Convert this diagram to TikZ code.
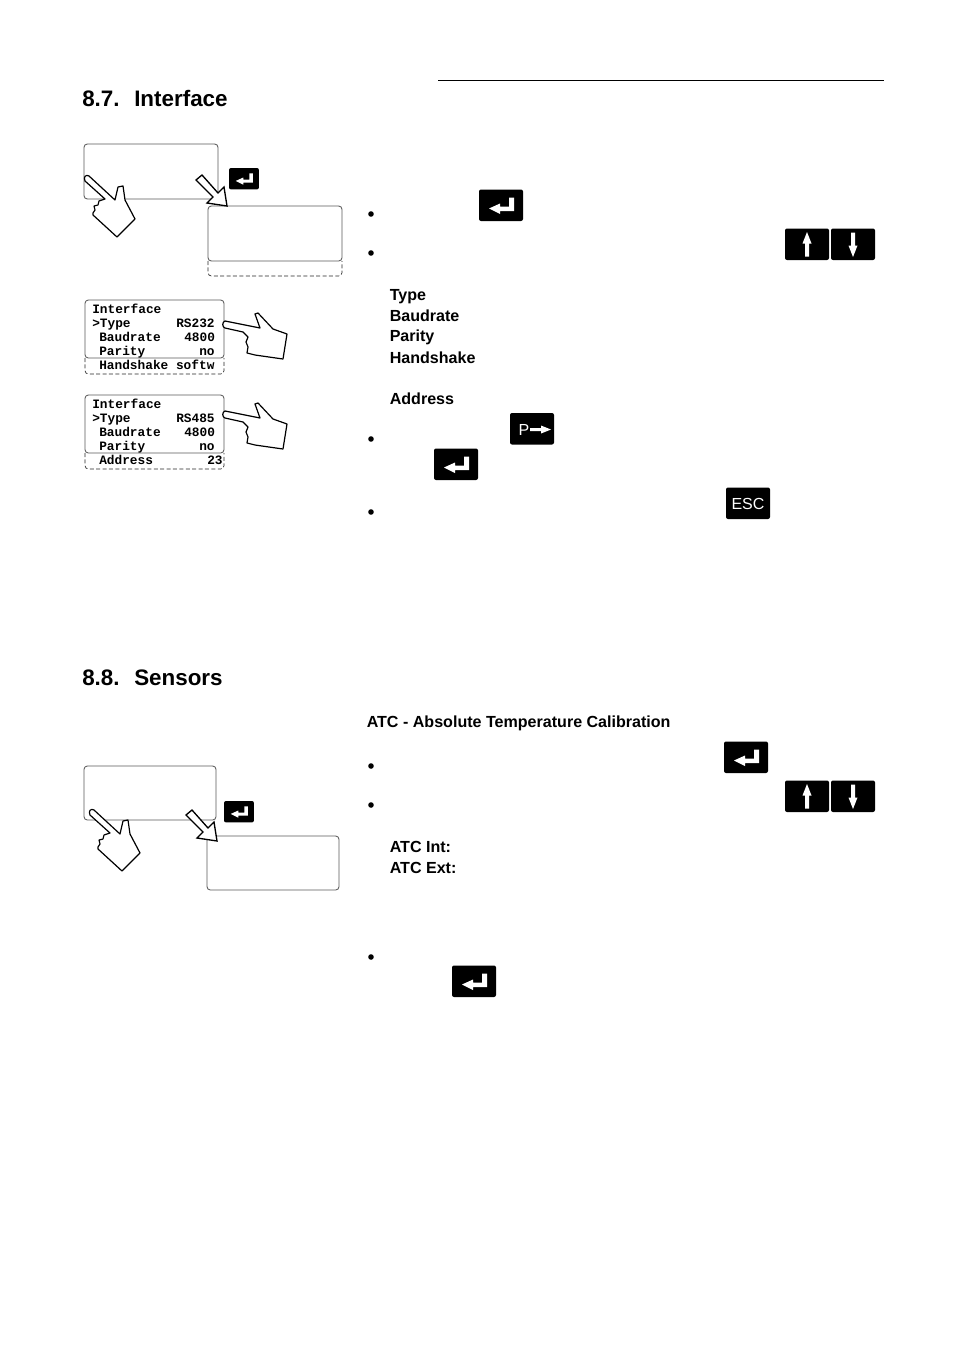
\documentclass[tikz,border=0pt]{standalone}
\usepackage{fontspec}
\setmainfont{Liberation Sans}
\setmonofont{Liberation Mono}

\tikzset{
    dispbox/.style={draw=black!65, line width=0.65pt, rounded corners=2.5pt},
    dashbox/.style={draw=black!85, line width=0.5pt, dash pattern=on 3pt off 1.8pt, rounded corners=2.5pt},
    heading/.style={anchor=base west, inner sep=0pt, font=\fontsize{16.8}{20}\selectfont\bfseries},
    label/.style={anchor=base west, inner sep=0pt, font=\fontsize{12.05}{14}\selectfont\bfseries},
    lcd/.style={anchor=base west, inner sep=0pt, font=\fontsize{9.6}{11}\selectfont\ttfamily\bfseries},
    keytext/.style={inner sep=0pt, text=white, font=\fontsize{12}{14}\selectfont},
    pics/keybase/.style={code={
        \fill[black, rounded corners=1.5pt] (0,0) rectangle (44,31.5);
    }},
    pics/enterkey/.style={code={
        \fill[black, rounded corners=1.5pt] (0,0) rectangle (44,31.5);
        \fill[white] (30,8) -- (35,8) -- (35,21.5) -- (21,21.5) -- (21,24.5) -- (10,19)
            -- (21,14) -- (21,17) -- (30,17) -- cycle;
    }},
    pics/upkey/.style={code={
        \fill[black, rounded corners=1.5pt] (0,0) rectangle (44,31.5);
        \fill[white] (22,3.5) -- (26.5,15) -- (24,15) -- (24,28) -- (20,28) -- (20,15) -- (17.5,15) -- cycle;
    }},
    pics/downkey/.style={code={
        \fill[black, rounded corners=1.5pt] (0,0) rectangle (44,31.5);
        \fill[white] (22,28.5) -- (26.5,17) -- (24,17) -- (24,4) -- (20,4) -- (20,17) -- (17.5,17) -- cycle;
    }},
    pics/handup/.style={code={
        \draw[fill=white, line width=0.9pt, line join=round]
            (1,-1) -- (27,23) -- (30,10) -- (35,9) -- (37,23) -- (47,42) -- (29,60) -- (5,38)
            -- (5,36) -- (7,33) -- (6,29) -- (10,28) -- (11,24) -- (17,22) -- (-3,4)
            .. controls (-5,0) and (-2,-3) .. (1,-1) -- cycle;
    }},
    pics/handleft/.style={code={
        \draw[fill=white, line width=0.9pt, line join=round]
            (0,-1) -- (35,6) -- (30,-8) -- (33,-9) -- (48,7) -- (62,12) -- (58,37) -- (30,33)
            -- (22,31) -- (23,25) -- (21,20) -- (23,15) -- (18,10) -- (0,6)
            .. controls (-3,5) and (-3,0) .. (0,-1) -- cycle;
    }},
    pics/blockarrow/.style={code={
        \draw[fill=white, line width=1pt, line join=miter]
            (-31,-26) -- (-25,-31) -- (-9,-13) -- (-3,-19) -- (0,0) -- (-20,-3) -- (-14,-9) -- cycle;
    }},
}

\begin{document}
\begin{tikzpicture}[x=0.75pt, y=-0.75pt]
    \useasboundingbox (0,0) rectangle (954,1349);
    \draw[line width=0.6pt] (438,80) -- (884,80);

    % section headings
    \node[heading] (numA) at (82,106) {8.7.};
    \node[heading] (titleA) at (134,106) {Interface};
    \node[heading] (numB) at (82,685) {8.8.};
    \node[heading] (titleB) at (134,685) {Sensors};

    % interface menu screens
    \draw[dispbox] (84,144) rectangle (218,199);
    \draw[dispbox] (208,206) rectangle (342,261);
    \draw[dashbox] (208,261) -- (208,276) -- (342,276) -- (342,261);
    \pic at (88,177) {handup};
    \pic at (227,206) {blockarrow};
    \pic[scale=0.68] at (229,168) {enterkey};

    % the two type displays
    \foreach \ytop/\yhand in {300/322,395/412} {
        \pgfmathsetmacro{\ybot}{\ytop+58}
        \pgfmathsetmacro{\yend}{\ytop+74}
        \draw[dispbox] (85,\ytop) rectangle (224,\ybot);
        \draw[dashbox] (85,\ybot) -- (85,\yend) -- (224,\yend) -- (224,\ybot);
        \pic at (225,\yhand) {handleft};
    }
    \node[lcd] (lcdAa) at (92,313) {Interface};
    \node[lcd] (lcdAb) at (92,327) {>Type};
    \node[lcd] (lcdAc) at (176,327) {RS232};
    \node[lcd] (lcdAd) at (99,341) {Baudrate};
    \node[lcd] (lcdAe) at (184,341) {4800};
    \node[lcd] (lcdAf) at (99,355) {Parity};
    \node[lcd] (lcdAg) at (199,355) {no};
    \node[lcd] (lcdAh) at (99,369) {Handshake softw};
    \node[lcd] (lcdBa) at (92,408) {Interface};
    \node[lcd] (lcdBb) at (92,422) {>Type};
    \node[lcd] (lcdBc) at (176,422) {RS485};
    \node[lcd] (lcdBd) at (99,436) {Baudrate};
    \node[lcd] (lcdBe) at (184,436) {4800};
    \node[lcd] (lcdBf) at (99,450) {Parity};
    \node[lcd] (lcdBg) at (199,450) {no};
    \node[lcd] (lcdBh) at (99,464) {Address};
    \node[lcd] (lcdBi) at (207,464) {23};

    % sensor menu screens
    \draw[dispbox] (84,766) rectangle (216,820);
    \draw[dispbox] (207,836) rectangle (339,890);
    \pic at (93,811) {handup};
    \pic at (217,841) {blockarrow};
    \pic[scale=0.68] at (224,801) {enterkey};

    % bullets
    \foreach \y in {214,253,439,512,766,805,957} {
        \fill (371,\y) circle (2.8);
    }

    % keys
    \foreach \x/\y in {479/189.5, 434/448.5, 724/741.5, 452/965.5} {
        \pic at (\x,\y) {enterkey};
    }
    \foreach \y in {228.5,780.5} {
        \pic at (785,\y) {upkey};
        \pic at (831,\y) {downkey};
    }
    \pic at (510,413) {keybase};
    \node[keytext] (keyP) at (524,429.5) {P};
    \fill[white] (530,428) -- (541,428) -- (541,425.5) -- (551,429.5) -- (541,433.5) -- (541,431) -- (530,431) -- cycle;
    \pic at (726,487.5) {keybase};
    \node[keytext] (keyEsc) at (748,503.5) {ESC};

    % bold labels
    \node[label] (lblType) at (389.5,300) {Type};
    \node[label] (lblBaud) at (389.5,321) {Baudrate};
    \node[label] (lblParity) at (389.5,341) {Parity};
    \node[label] (lblHand) at (389.5,363) {Handshake};
    \node[label] (lblAddr) at (389.5,404) {Address};
    \node[label] (lblAtc) at (366.5,727) {ATC - Absolute Temperature Calibration};
    \node[label] (lblInt) at (389.5,852) {ATC Int:};
    \node[label] (lblExt) at (389.5,873) {ATC Ext:};
\end{tikzpicture}
\end{document}
